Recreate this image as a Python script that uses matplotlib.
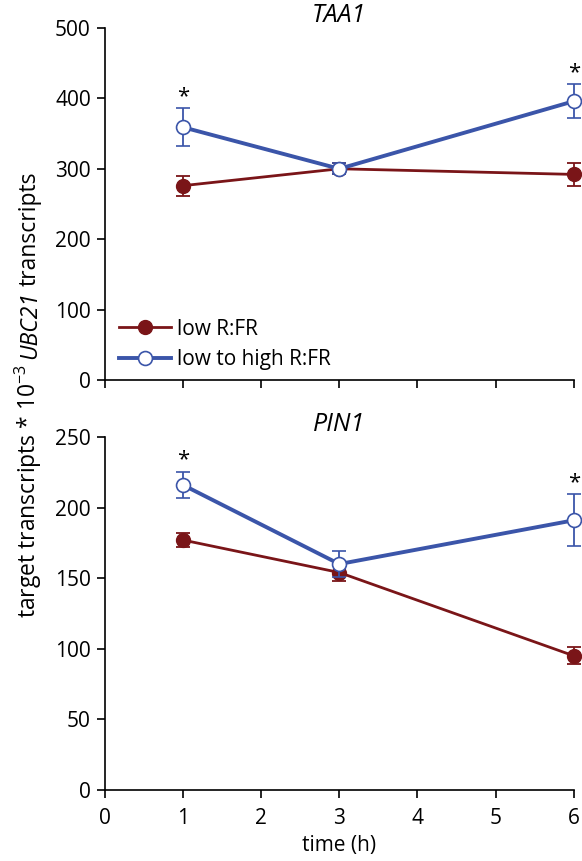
import matplotlib as mpl
mpl.use('Agg')
import matplotlib.pyplot as plt

# time points (h)
Time = [1, 3, 6]

# TAA1
TaaLow = [276, 300, 292]
TaaLowErr = [14, 8, 16]
TaaHigh = [359, 300, 396]
TaaHighErr = [27, 8, 24]
TaaStars = [1, 6]

# PIN1
PinLow = [177, 154, 95]
PinLowErr = [5, 6, 6]
PinHigh = [216, 160, 191]
PinHighErr = [9.5, 9, 18.5]
PinStars = [1, 6]

# y label pieces: (text, style)
YLabelParts = [('target transcripts * 10$^{-3}$', 'normal'), ('UBC21', 'italic'), ('transcripts', 'normal')]

Red = '#7a1518'
Blue = '#3b55a9'

plt.rcParams.update({'font.family': 'Open Sans', 'font.size': 15,
                     'mathtext.fontset': 'custom', 'mathtext.rm': 'Open Sans',
                     'mathtext.it': 'Open Sans:italic'})

Fig = plt.figure(figsize=(5.82, 8.61), dpi=100)
Axe = Fig.add_axes([0.180, 0.5587, 0.806, 0.4088])
Axe2 = Fig.add_axes([0.180, 0.0825, 0.806, 0.4100])


def DrawPanel(Ax, Low, LowErr, High, HighErr, Stars, Title, YMax, YStep):
	LowLine = Ax.errorbar(Time, Low, yerr=LowErr, color=Red, lw=2.0, marker='o', ms=10,
	                      mfc=Red, mec=Red, capsize=5, elinewidth=1.3, capthick=1.3,
	                      clip_on=False, zorder=3)
	HighLine = Ax.errorbar(Time, High, yerr=HighErr, color=Blue, lw=2.8, marker='o', ms=10,
	                       mfc='white', mec=Blue, mew=1.2, capsize=5, elinewidth=1.3,
	                       capthick=1.3, clip_on=False, zorder=4)
	for T in Stars:
		i = Time.index(T)
		Ax.annotate('*', (T, High[i] + HighErr[i]), xytext=(0, 1), textcoords='offset points',
		            ha='center', va='bottom', fontsize=16)
	Ax.set_xlim(0, 6)
	Ax.set_ylim(0, YMax)
	Ax.set_xticks(range(0, 7))
	Ax.set_yticks(range(0, YMax + 1, YStep))
	Ax.spines['top'].set_visible(False)
	Ax.spines['right'].set_visible(False)
	Ax.tick_params(direction='out', length=6, width=1.2, labelsize=15, pad=4)
	for S in ('left', 'bottom'):
		Ax.spines[S].set_linewidth(1.2)
	Ax.set_title(Title, style='italic', fontsize=18, pad=2)
	return LowLine, HighLine


LowLine, HighLine = DrawPanel(Axe, TaaLow, TaaLowErr, TaaHigh, TaaHighErr, TaaStars, 'TAA1', 500, 100)
DrawPanel(Axe2, PinLow, PinLowErr, PinHigh, PinHighErr, PinStars, 'PIN1', 250, 50)

Axe.tick_params(axis='x', labelbottom=False)
Axe2.tick_params(axis='x', pad=7)
Axe2.set_xlabel('time (h)', fontsize=15, labelpad=4)

Leg = Axe.legend([LowLine[0], HighLine[0]], ['low R:FR', 'low to high R:FR'],
                 loc='lower left', bbox_to_anchor=(-0.01, -0.025), frameon=False,
                 fontsize=15, handlelength=2.5, handletextpad=0.3, labelspacing=0.45)

# rotated y label built from pieces so that UBC21 is fully italic
Renderer = Fig.canvas.get_renderer()
Gap = 5  # pixels between pieces
Pieces = []
for Text, Style in YLabelParts:
	T = Fig.text(0, 0, Text, rotation=90, rotation_mode='anchor', ha='left', va='baseline',
	             fontsize=16.5, style=Style)
	Pieces.append(T)
Lengths = [P.get_window_extent(Renderer).height for P in Pieces]
Total = sum(Lengths) + Gap * (len(Pieces) - 1)
CenterY = 0.541 * Fig.bbox.height
BaseX = 0.062 * Fig.bbox.width
Y = CenterY - Total / 2
for P, L in zip(Pieces, Lengths):
	P.set_transform(mpl.transforms.IdentityTransform())
	P.set_position((BaseX, Y))
	Y += L + Gap

plt.savefig('out.png', dpi=100)
